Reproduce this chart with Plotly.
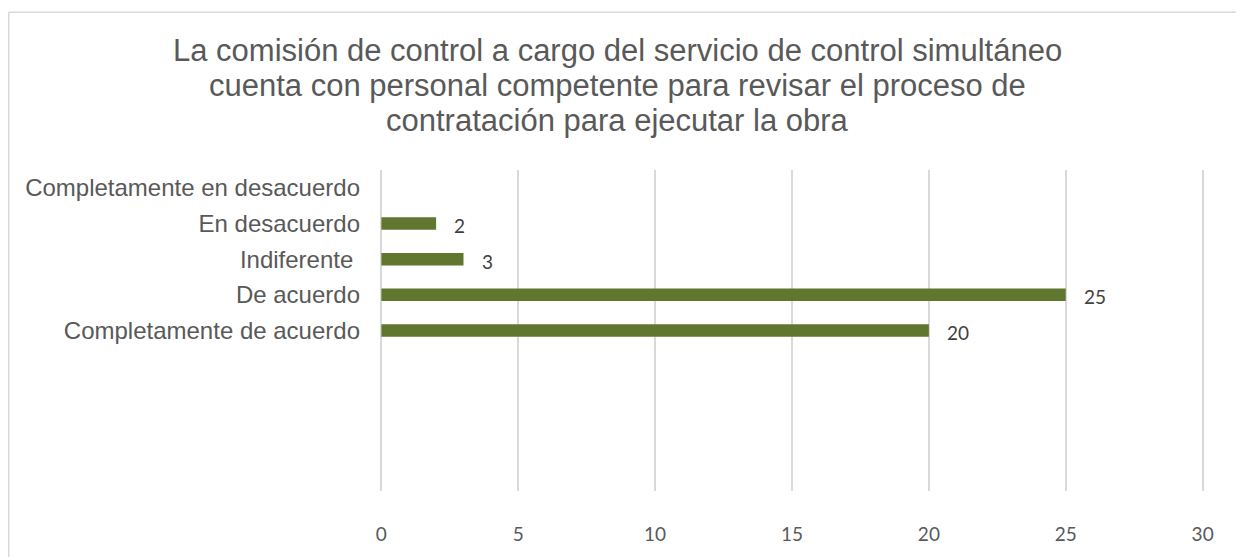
import plotly.graph_objects as go

# Data
categories = [
    "Completamente en desacuerdo",
    "En desacuerdo",
    "Indiferente ",
    "De acuerdo",
    "Completamente de acuerdo",
]
values = [None, 2, 3, 25, 20]
x_ticks = [0, 5, 10, 15, 20, 25, 30]

title_lines = [
    "La comisión de control a cargo del servicio de control simultáneo",
    "cuenta con personal competente para revisar el proceso de",
    "contratación para ejecutar la obra",
]

# page has an 8px body margin, offset the figure accordingly
OFF = 8
W, H = 1244 - 2 * OFF, 557 - OFF
L, T = 380 - OFF, 170 - OFF
R = W - (1204 - OFF)
B = H - (498 - OFF)

plot_w = W - L - R
plot_h = H - T - B
px = lambda v: (v - OFF - L) / plot_w        # page x -> paper x
py = lambda v: (H - B - (v - OFF)) / plot_h  # page y -> paper y

fig = go.Figure()
fig.add_trace(go.Bar(
    y=categories,
    x=values,
    orientation="h",
    width=0.35,
    marker=dict(color="#61772f", line_width=0),
    hoverinfo="x+y",
))

# data labels
for cat, val in zip(categories, values):
    if val is None:
        continue
    fig.add_annotation(
        x=val, y=cat, text=str(val), showarrow=False,
        xanchor="left", xshift=16, yshift=-2,
        font=dict(family="Lato, Open Sans, sans-serif", size=19, color="#404040"),
    )

# title, one line per annotation to keep tight line spacing
for line, yc in zip(title_lines, [48, 84, 119]):
    fig.add_annotation(
        text=line, xref="paper", yref="paper",
        x=px(617), y=py(yc), xanchor="center", yanchor="middle",
        showarrow=False,
        font=dict(family="Liberation Sans, Arial, sans-serif", size=31, color="#595959"),
    )

# chart frame (top and left edges visible)
fig.add_shape(type="line", xref="paper", yref="paper",
              x0=px(OFF + 0.75), x1=px(1250), y0=py(OFF + 0.75), y1=py(OFF + 0.75),
              line=dict(color="#d9d9d9", width=1.5))
fig.add_shape(type="line", xref="paper", yref="paper",
              x0=px(OFF + 0.75), x1=px(OFF + 0.75), y0=py(OFF + 0.75), y1=py(570),
              line=dict(color="#d9d9d9", width=1.5))

fig.update_layout(
    width=W, height=H,
    margin=dict(l=L, r=R, t=T, b=B),
    paper_bgcolor="white", plot_bgcolor="white",
    showlegend=False,
)

fig.update_xaxes(
    range=[-0.05, 30.05], tickvals=x_ticks,
    showgrid=True, gridcolor="#d9d9d9", gridwidth=1.5,
    zeroline=True, zerolinecolor="#d9d9d9", zerolinewidth=1.5,
    showline=False,
    ticklabelstandoff=30,
    tickfont=dict(family="Lato, Open Sans, sans-serif", size=19, color="#595959"),
)
fig.update_yaxes(
    type="category", categoryorder="array", categoryarray=categories,
    range=[8.5, -0.5],
    showgrid=False, zeroline=False, showline=False,
    ticklabelstandoff=19,
    tickfont=dict(family="Liberation Sans, Arial, sans-serif", size=24, color="#595959"),
)

fig.write_html("out.html")
